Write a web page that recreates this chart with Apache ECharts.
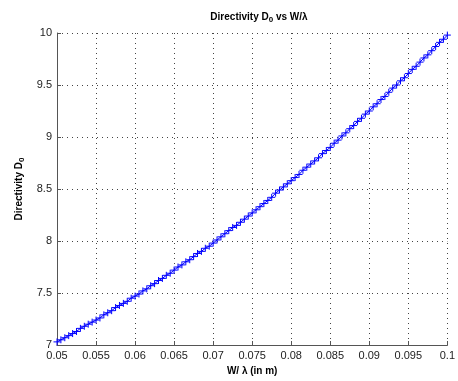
<!DOCTYPE html>
<html><head><meta charset="utf-8">
<script src="https://cdn.jsdelivr.net/npm/echarts@6/dist/echarts.min.js"></script>
<style>html,body{margin:0;padding:0;background:#fff}#c{width:458px;height:381px}</style>
</head><body><div id="c"></div>
<script>
var xValues = [0.05,0.0505,0.051,0.0515,0.052,0.0525,0.053,0.0535,0.054,0.0545,
0.055,0.0555,0.056,0.0565,0.057,0.0575,0.058,0.0585,0.059,0.0595,
0.06,0.0605,0.061,0.0615,0.062,0.0625,0.063,0.0635,0.064,0.0645,
0.065,0.0655,0.066,0.0665,0.067,0.0675,0.068,0.0685,0.069,0.0695,
0.07,0.0705,0.071,0.0715,0.072,0.0725,0.073,0.0735,0.074,0.0745,
0.075,0.0755,0.076,0.0765,0.077,0.0775,0.078,0.0785,0.079,0.0795,
0.08,0.0805,0.081,0.0815,0.082,0.0825,0.083,0.0835,0.084,0.0845,
0.085,0.0855,0.086,0.0865,0.087,0.0875,0.088,0.0885,0.089,0.0895,
0.09,0.0905,0.091,0.0915,0.092,0.0925,0.093,0.0935,0.094,0.0945,
0.095,0.0955,0.096,0.0965,0.097,0.0975,0.098,0.0985,0.099,0.0995,
0.1];
var directivity = [7.03,7.05,7.07,7.09,7.11,7.13,7.16,7.18,7.20,7.22,
7.24,7.26,7.29,7.31,7.33,7.36,7.38,7.40,7.42,7.45,
7.47,7.49,7.52,7.54,7.57,7.59,7.62,7.64,7.67,7.69,
7.72,7.75,7.77,7.80,7.82,7.85,7.88,7.90,7.93,7.95,
7.98,8.01,8.04,8.07,8.10,8.13,8.15,8.18,8.21,8.24,
8.27,8.30,8.33,8.36,8.39,8.42,8.46,8.49,8.52,8.55,
8.58,8.61,8.64,8.68,8.71,8.74,8.77,8.80,8.84,8.87,
8.90,8.94,8.97,9.01,9.04,9.08,9.11,9.15,9.18,9.22,
9.25,9.29,9.32,9.36,9.39,9.43,9.47,9.50,9.54,9.57,
9.61,9.65,9.68,9.72,9.76,9.79,9.83,9.87,9.91,9.94,
9.98];
var xTickLabels = ['0.05','0.055','0.06','0.065','0.07','0.075','0.08','0.085','0.09','0.095','0.1'];
var yTickLabels = ['7','7.5','8','8.5','9','9.5','10'];

var points = xValues.map(function(x,i){return [x, directivity[i]];});
var chart = echarts.init(document.getElementById('c'), null, {renderer:'canvas'});
var fam = '"Liberation Sans", Arial, Helvetica, sans-serif';
var gridLine = {show:true, lineStyle:{color:'#444', type:[1,4], width:1}};
chart.setOption({
  animation:false,
  backgroundColor:'#fff',
  title:{
    text:'{a|Directivity D}{s|0}{a| vs W/λ}',
    left:254, top:5, textAlign:'center',
    textStyle:{rich:{
      a:{fontFamily:fam, fontWeight:'bold', fontSize:10, color:'#000'},
      s:{fontFamily:fam, fontWeight:'bold', fontSize:8, color:'#000', verticalAlign:'bottom', padding:[6,0,0,0]}
    }}
  },
  grid:{left:57, right:6, top:33, bottom:35, containLabel:false},
  xAxis:{
    type:'value', min:0.05, max:0.1, interval:0.005,
    name:'W/ λ (in m)', nameLocation:'middle', nameGap:21,
    nameTextStyle:{fontFamily:fam, fontWeight:'bold', fontSize:10, color:'#000'},
    axisLine:{show:true, lineStyle:{color:'#555', width:1}},
    axisTick:{show:true, inside:true, length:4, lineStyle:{color:'#555'}},
    axisLabel:{fontFamily:fam, fontSize:11, color:'#222', margin:5,
      formatter:function(v){var k=Math.round((v-0.05)/0.005); return xTickLabels[k]!==undefined?xTickLabels[k]:'';}},
    splitLine:gridLine
  },
  yAxis:{
    type:'value', min:7, max:10, interval:0.5,
    name:'{a|Directivity D}{s|0}', nameLocation:'middle', nameGap:31, nameRotate:90,
    nameTextStyle:{rich:{
      a:{fontFamily:fam, fontWeight:'bold', fontSize:10, color:'#000'},
      s:{fontFamily:fam, fontWeight:'bold', fontSize:8, color:'#000', padding:[6,0,0,0]}
    }},
    axisLine:{show:true, lineStyle:{color:'#555', width:1}},
    axisTick:{show:true, inside:true, length:4, lineStyle:{color:'#555'}},
    axisLabel:{fontFamily:fam, fontSize:11, color:'#222', margin:5,
      formatter:function(v){var k=Math.round((v-7)/0.5); return yTickLabels[k]!==undefined?yTickLabels[k]:'';}},
    splitLine:gridLine
  },
  series:[{
    type:'line', data:points, showAllSymbol:true,
    symbol:'path://M0,5L10,5M5,0L5,10', symbolSize:7,
    lineStyle:{color:'#0000ff', width:1},
    itemStyle:{color:'#0000ff', borderColor:'#0000ff', borderWidth:1},
    emphasis:{disabled:true},
    clip:false
  }]
});
</script></body></html>
